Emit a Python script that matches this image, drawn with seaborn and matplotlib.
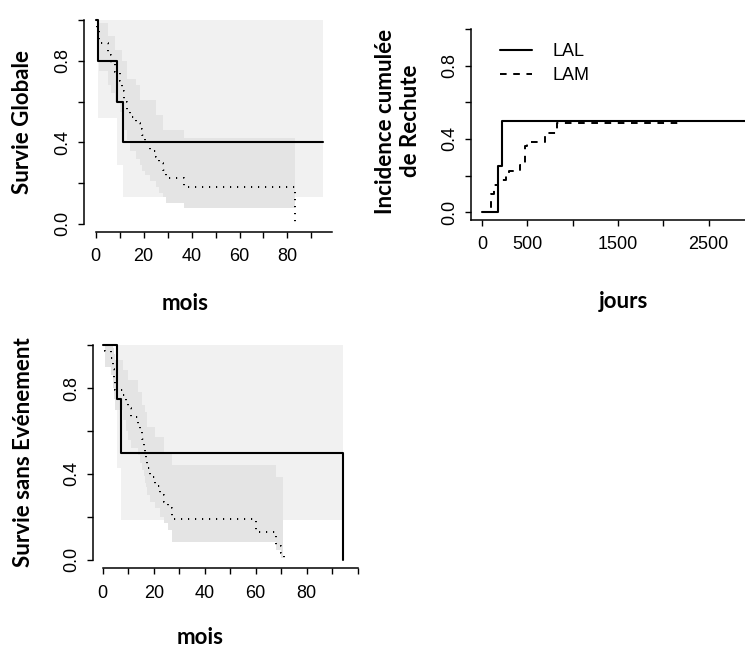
import matplotlib
matplotlib.use("Agg")
import matplotlib.pyplot as plt
import seaborn as sns

# --- Survie Globale (mois) ---
lal_os_t = [0, 0.8, 9.0, 11.4]
lal_os_s = [1.0, 0.8, 0.6, 0.4]
lal_os_end = 94.8
lal_os_band_t = [0.8, 9.0, 11.4]
lal_os_lo = [0.52, 0.29, 0.134]
lal_os_up = [1.0, 1.0, 1.0]

lam_os_t = [0, 0.5, 1.2, 5.0, 6.5, 8.0, 10.0, 11.0, 12.0, 13.0, 14.5, 17.0, 18.5,
            19.5, 20.5, 22.5, 25.0, 26.5, 28.0, 29.5, 37.0]
lam_os_s = [1.0, 0.955, 0.89, 0.83, 0.79, 0.745, 0.70, 0.65, 0.60, 0.56, 0.525, 0.495,
            0.465, 0.435, 0.40, 0.36, 0.33, 0.30, 0.265, 0.225, 0.18]
lam_os_up = [1.0, 1.0, 0.985, 0.92, 0.92, 0.854, 0.854, 0.80, 0.80, 0.71, 0.71, 0.68,
             0.61, 0.61, 0.61, 0.61, 0.535, 0.535, 0.46, 0.46, 0.42]
lam_os_lo = [1.0, 0.87, 0.75, 0.68, 0.64, 0.60, 0.55, 0.50, 0.46, 0.41, 0.36, 0.32,
             0.29, 0.26, 0.24, 0.21, 0.18, 0.15, 0.13, 0.10, 0.077]
lam_os_end = 83.3

# --- Incidence cumulee de rechute (jours) ---
lal_ci_t = [0, 180, 224]
lal_ci_v = [0.0, 0.25, 0.5]
lal_ci_end = 3000
lam_ci_t = [0, 75, 100, 130, 180, 260, 300, 420, 470, 500, 690, 830]
lam_ci_v = [0.0, 0.025, 0.10, 0.15, 0.175, 0.20, 0.225, 0.26, 0.36, 0.385, 0.43, 0.485]
lam_ci_end = 2170

# --- Survie sans Evenement (mois) ---
lal_efs_t = [0, 5.7, 7.05]
lal_efs_s = [1.0, 0.75, 0.5]
lal_efs_end = 94.4
lal_efs_band_t = [5.7, 7.05]
lal_efs_lo = [0.426, 0.185]
lal_efs_up = [1.0, 1.0]

lam_efs_t = [0, 0.8, 3.3, 4.0, 4.5, 5.0, 8.0, 9.0, 10.0, 11.0, 14.0, 14.5, 15.5, 16.0,
             16.5, 17.0, 17.5, 18.5, 20.5, 22.5, 24.0, 25.5, 27.0, 60.0, 68.0, 70.0]
lam_efs_s = [1.0, 0.975, 0.94, 0.89, 0.84, 0.79, 0.77, 0.74, 0.71, 0.665, 0.635, 0.60,
             0.565, 0.53, 0.50, 0.465, 0.43, 0.385, 0.345, 0.30, 0.27, 0.24, 0.19, 0.13,
             0.065, 0.03]
lam_efs_up = [1.0, 1.0, 1.0, 0.99, 0.96, 0.93, 0.885, 0.885, 0.84, 0.84, 0.784, 0.784,
              0.72, 0.72, 0.69, 0.69, 0.62, 0.62, 0.574, 0.574, 0.50, 0.50, 0.442, 0.442,
              0.388, 0.388]
lam_efs_lo = [1.0, 0.90, 0.86, 0.80, 0.75, 0.70, 0.652, 0.60, 0.56, 0.52, 0.49, 0.45,
              0.42, 0.39, 0.36, 0.34, 0.30, 0.27, 0.24, 0.20, 0.17, 0.14, 0.084, 0.084,
              0.045, 0.006]
lam_efs_end = 71.0

LIGHT = "#F1F1F1"
DARK = "#E4E4E4"
DOTS = (0, (0.6, 3.0))
DASH = (0, (3.4, 3.4))

sns.set_style("ticks")
plt.rcParams["font.family"] = ["Liberation Sans", "DejaVu Sans"]
for k in ["text.color", "axes.labelcolor", "xtick.color", "ytick.color", "axes.edgecolor"]:
    plt.rcParams[k] = "black"

W, H = 745, 649
fig = plt.figure(figsize=(W / 100, H / 100), dpi=100)


def px_axes(left, bottom, right, top):
    return fig.add_axes([left / W, 1 - bottom / H, (right - left) / W, (bottom - top) / H])


def steps(t, v, end, drop=None):
    x = list(t) + [end]
    y = list(v) + [v[-1]]
    if drop is not None:
        x.append(end)
        y.append(drop)
    return x, y


def band(ax, t, lo, up, end, color):
    x = list(t) + [end]
    ax.fill_between(x, list(lo) + [lo[-1]], list(up) + [up[-1]], step="post",
                    color=color, lw=0, zorder=1)


def style(ax, xticks, xlabels, xbounds, ybounds):
    for s in ["top", "right"]:
        ax.spines[s].set_visible(False)
    ax.spines["left"].set_bounds(*ybounds)
    ax.spines["bottom"].set_bounds(*xbounds)
    for s in ["left", "bottom"]:
        ax.spines[s].set_linewidth(1.1)
    ax.set_xticks(xticks, xlabels, fontsize=13)
    ax.set_yticks([0, 0.2, 0.4, 0.6, 0.8, 1.0], ["0.0", "", "0.4", "", "0.8", ""],
                  fontsize=13, rotation=90, va="center")
    ax.tick_params(length=4.3, width=1.0, color="black")
    ax.tick_params(axis="x", pad=7.5)
    ax.tick_params(axis="y", pad=5)


def labels(ax, xl, xpos, yl, ypos):
    ax.set_xlabel(xl, fontfamily="Lato", fontweight="bold", fontsize=16, va="center")
    ax.xaxis.set_label_coords(xpos[0] / W, 1 - xpos[1] / H, transform=fig.transFigure)
    ax.set_ylabel(yl, fontfamily="Lato", fontweight="bold", fontsize=16, va="center",
                  linespacing=1.25)
    ax.yaxis.set_label_coords(ypos[0] / W, 1 - ypos[1] / H, transform=fig.transFigure)


# Panel 1 : Survie Globale
ax1 = px_axes(84, 232, 332, 12)
band(ax1, lal_os_band_t, lal_os_lo, lal_os_up, lal_os_end, LIGHT)
band(ax1, lam_os_t, lam_os_lo, lam_os_up, lam_os_end, DARK)
x, y = steps(lal_os_t, lal_os_s, lal_os_end)
sns.lineplot(x=x, y=y, ax=ax1, color="black", lw=1.5, drawstyle="steps-post",
             estimator=None, sort=False, zorder=3)
x, y = steps(lam_os_t, lam_os_s, lam_os_end, drop=0.0)
sns.lineplot(x=x, y=y, ax=ax1, color="black", lw=1.4, linestyle=DOTS,
             drawstyle="steps-post", estimator=None, sort=False, zorder=3)
ax1.set_xlim(-4.9, 98.6)
ax1.set_ylim(-0.04, 1.04)
style(ax1, list(range(0, 100, 10)), ["0", "", "20", "", "40", "", "60", "", "80", ""],
      (0, 98.6), (0, 1))
labels(ax1, "mois", (185, 303), "Survie Globale", (23, 122))

# Panel 2 : Incidence cumulee de Rechute
ax2 = px_axes(471, 220, 745, 21.5)
x, y = steps(lal_ci_t, lal_ci_v, lal_ci_end)
sns.lineplot(x=x, y=y, ax=ax2, color="black", lw=1.5, drawstyle="steps-post",
             estimator=None, sort=False, label="LAL")
x, y = steps(lam_ci_t, lam_ci_v, lam_ci_end)
sns.lineplot(x=x, y=y, ax=ax2, color="black", lw=1.4, linestyle=DASH,
             drawstyle="steps-post", estimator=None, sort=False, label="LAM")
ax2.set_xlim(-121, 2902)
ax2.set_ylim(-0.042, 1.04)
style(ax2, [0, 500, 1000, 1500, 2000, 2500], ["0", "500", "", "1500", "", "2500"],
      (-121, 2902), (-0.042, 1.0))
labels(ax2, "jours", (623, 301), "Incidence cumulée\nde Rechute", (398, 121))
ax2.legend(loc="upper left", bbox_to_anchor=(493 / W, 1 - 36 / H),
           bbox_transform=fig.transFigure, frameon=False, fontsize=13,
           handlelength=1.75, handletextpad=1.15, labelspacing=0.38, borderaxespad=0)

# Panel 3 : Survie sans Evenement
ax3 = px_axes(93.3, 568.3, 359.3, 336.8)
band(ax3, lal_efs_band_t, lal_efs_lo, lal_efs_up, lal_efs_end, LIGHT)
band(ax3, lam_efs_t, lam_efs_lo, lam_efs_up, 70.8, DARK)
x, y = steps(lal_efs_t, lal_efs_s, lal_efs_end, drop=0.0)
sns.lineplot(x=x, y=y, ax=ax3, color="black", lw=1.5, drawstyle="steps-post",
             estimator=None, sort=False, zorder=3)
x, y = steps(lam_efs_t, lam_efs_s, lam_efs_end, drop=0.0)
sns.lineplot(x=x, y=y, ax=ax3, color="black", lw=1.4, linestyle=DOTS,
             drawstyle="steps-post", estimator=None, sort=False, zorder=3)
ax3.set_xlim(-3.69, 100.6)
ax3.set_ylim(-0.04, 1.04)
style(ax3, list(range(0, 101, 10)),
      ["0", "", "20", "", "40", "", "60", "", "80", "", ""], (0, 100), (0, 1))
labels(ax3, "mois", (200, 638), "Survie sans Evénement", (24, 452))

fig.savefig("out.png", dpi=100)
